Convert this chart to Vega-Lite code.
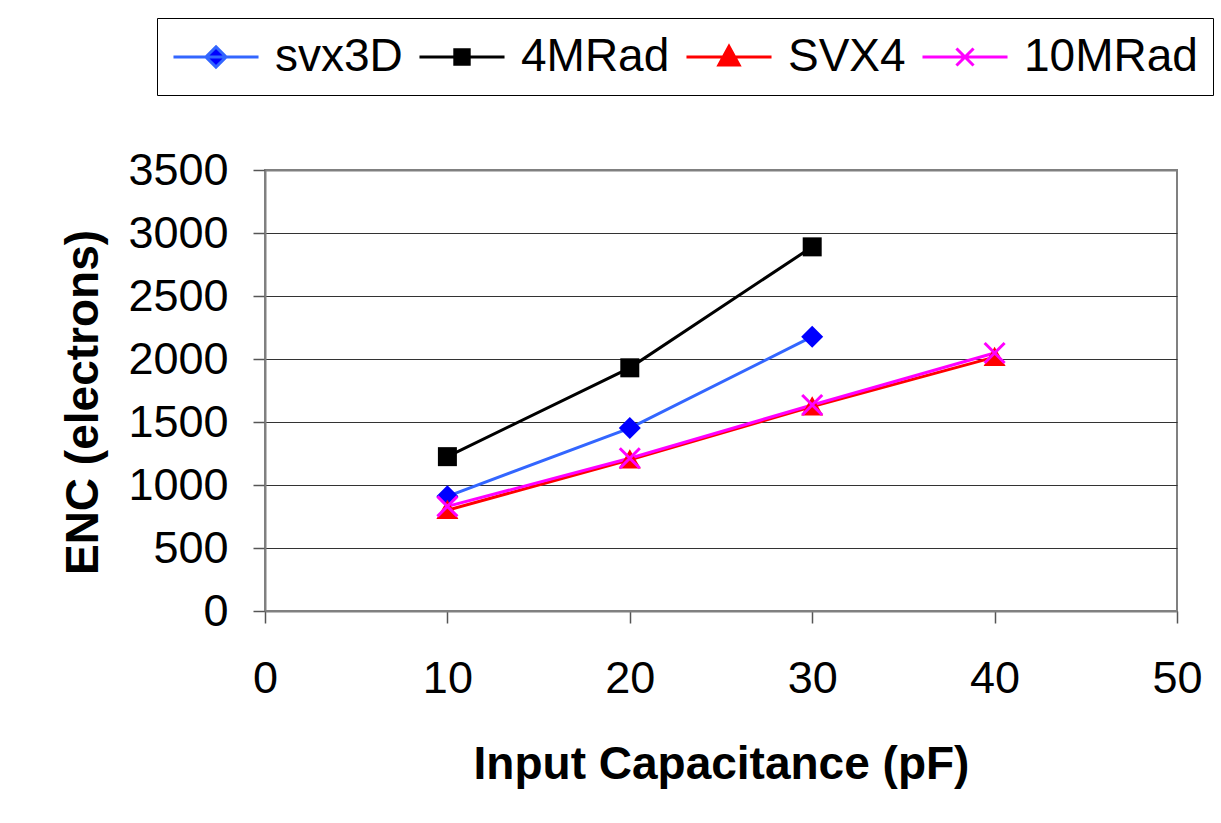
{
  "$schema": "https://vega.github.io/schema/vega-lite/v6.json",
  "autosize": {"type": "none"},
  "padding": {"left": 265, "top": 170, "right": 44, "bottom": 212},
  "width": 912,
  "height": 441,
  "background": "white",
  "config": {
    "font": "Liberation Sans",
    "view": {"stroke": "#808080", "strokeWidth": 2}
  },
  "data": {
    "values": [
      {"series": "svx3D", "pF": 10, "enc": 910},
      {"series": "svx3D", "pF": 20, "enc": 1452},
      {"series": "svx3D", "pF": 30, "enc": 2177},
      {"series": "4MRad", "pF": 10, "enc": 1225},
      {"series": "4MRad", "pF": 20, "enc": 1930},
      {"series": "4MRad", "pF": 30, "enc": 2890},
      {"series": "SVX4", "pF": 10, "enc": 800},
      {"series": "SVX4", "pF": 20, "enc": 1200},
      {"series": "SVX4", "pF": 30, "enc": 1622},
      {"series": "SVX4", "pF": 40, "enc": 2015},
      {"series": "10MRad", "pF": 10, "enc": 830},
      {"series": "10MRad", "pF": 20, "enc": 1212},
      {"series": "10MRad", "pF": 30, "enc": 1635},
      {"series": "10MRad", "pF": 40, "enc": 2048}
    ]
  },
  "encoding": {
    "x": {
      "field": "pF", "type": "quantitative",
      "scale": {"domain": [0, 50], "nice": false, "zero": false},
      "axis": {
        "title": "Input Capacitance (pF)",
        "values": [0, 10, 20, 30, 40, 50],
        "format": "d",
        "grid": false,
        "domainColor": "#808080", "domainWidth": 2,
        "tickColor": "#555555", "tickWidth": 1.5, "tickSize": 12,
        "labelFont": "Liberation Sans", "labelFontSize": 45, "labelColor": "black",
        "labelPadding": 33, "labelFlush": false, "labelOverlap": false,
        "titleFont": "Liberation Sans", "titleFontSize": 46, "titleFontWeight": "bold", "titleColor": "black",
        "titleX": 456, "titleY": 167, "titleBaseline": "alphabetic"
      }
    },
    "y": {
      "field": "enc", "type": "quantitative",
      "scale": {"domain": [0, 3500], "nice": false},
      "axis": {
        "title": "ENC (electrons)",
        "values": [0, 500, 1000, 1500, 2000, 2500, 3000, 3500],
        "format": "d",
        "grid": true,
        "gridColor": {"condition": {"test": "datum.value === 3500", "value": "#808080"}, "value": "#333333"},
        "gridWidth": {"condition": {"test": "datum.value === 3500", "value": 2}, "value": 1.2},
        "domainColor": "#808080", "domainWidth": 2,
        "tickColor": "#555555", "tickWidth": 1.5, "tickSize": 12,
        "labelFont": "Liberation Sans", "labelFontSize": 45, "labelColor": "black",
        "labelPadding": 25, "labelFlush": false, "labelOverlap": false,
        "titleFont": "Liberation Sans", "titleFontSize": 46, "titleFontWeight": "bold", "titleColor": "black",
        "titleAngle": -90, "titleX": -168, "titleY": 232, "titleBaseline": "alphabetic", "titleAlign": "center"
      }
    }
  },
  "layer": [
    {
      "transform": [{"filter": "false"}],
      "mark": {"type": "point", "filled": true, "opacity": 1, "strokeWidth": 3},
      "encoding": {
        "shape": {
          "field": "series", "type": "nominal",
          "scale": {
            "domain": ["svx3D", "4MRad", "SVX4", "10MRad"],
            "range": [
              "M-1.89,0L1.89,0M0,-0.45L0.45,0L0,0.45L-0.45,0Z",
              "M-1.89,0L1.89,0M-0.32,-0.32L0.32,-0.32L0.32,0.32L-0.32,0.32Z",
              "M-1.89,0L1.89,0M0,-0.47L0.45,0.36L-0.45,0.36Z",
              "M-1.89,0L1.89,0M-0.38,-0.38L0.38,0.38M-0.38,0.38L0.38,-0.38"
            ]
          },
          "legend": {
            "title": null, "orient": "none", "legendX": -108, "legendY": -152,
            "direction": "horizontal", "columns": 4, "columnPadding": 10,
            "labelOffset": 35, "symbolOffset": 20, "padding": 15,
            "strokeColor": "black", "fillColor": "white",
            "labelFont": "Liberation Sans", "labelFontSize": 46, "labelColor": "black", "labelLimit": 400,
            "symbolSize": 2025, "symbolStrokeWidth": 3, "symbolOpacity": 1
          }
        },
        "fill": {
          "field": "series", "type": "nominal",
          "scale": {"domain": ["svx3D", "4MRad", "SVX4", "10MRad"], "range": ["#0000FF", "#000000", "#FF0000", "#FF00FF"]},
          "legend": {
            "title": null, "orient": "none", "legendX": -108, "legendY": -152,
            "direction": "horizontal", "columns": 4, "columnPadding": 10,
            "labelOffset": 35, "symbolOffset": 20, "padding": 15,
            "strokeColor": "black", "fillColor": "white",
            "labelFont": "Liberation Sans", "labelFontSize": 46, "labelColor": "black", "labelLimit": 400,
            "symbolSize": 2025, "symbolStrokeWidth": 3, "symbolOpacity": 1
          }
        },
        "stroke": {
          "field": "series", "type": "nominal",
          "scale": {"domain": ["svx3D", "4MRad", "SVX4", "10MRad"], "range": ["#3366FF", "#000000", "#FF0000", "#FF00FF"]},
          "legend": {
            "title": null, "orient": "none", "legendX": -108, "legendY": -152,
            "direction": "horizontal", "columns": 4, "columnPadding": 10,
            "labelOffset": 35, "symbolOffset": 20, "padding": 15,
            "strokeColor": "black", "fillColor": "white",
            "labelFont": "Liberation Sans", "labelFontSize": 46, "labelColor": "black", "labelLimit": 400,
            "symbolSize": 2025, "symbolStrokeWidth": 3, "symbolOpacity": 1
          }
        }
      }
    },
    {
      "mark": {"type": "line", "strokeWidth": 3, "interpolate": "linear"},
      "encoding": {
        "stroke": {"field": "series", "type": "nominal"}
      }
    },
    {
      "transform": [{"filter": "datum.series === 'svx3D'"}],
      "mark": {"type": "point", "filled": true, "opacity": 1, "strokeWidth": 0, "size": 484, "shape": "M0,-1L1,0L0,1L-1,0Z"},
      "encoding": {
        "fill": {"field": "series", "type": "nominal"}
      }
    },
    {
      "transform": [{"filter": "datum.series === '4MRad'"}],
      "mark": {"type": "point", "filled": true, "opacity": 1, "strokeWidth": 0, "size": 361, "shape": "M-1,-1L1,-1L1,1L-1,1Z"},
      "encoding": {
        "fill": {"field": "series", "type": "nominal"}
      }
    },
    {
      "transform": [{"filter": "datum.series === 'SVX4'"}],
      "mark": {"type": "point", "filled": true, "opacity": 1, "strokeWidth": 0, "size": 484, "shape": "M0,-0.95L1,0.8L-1,0.8Z"},
      "encoding": {
        "fill": {"field": "series", "type": "nominal"}
      }
    },
    {
      "transform": [{"filter": "datum.series === '10MRad'"}],
      "mark": {"type": "point", "filled": false, "opacity": 1, "strokeWidth": 3, "size": 400, "shape": "M-1,-1L1,1M-1,1L1,-1"},
      "encoding": {
        "stroke": {"field": "series", "type": "nominal"}
      }
    }
  ]
}
